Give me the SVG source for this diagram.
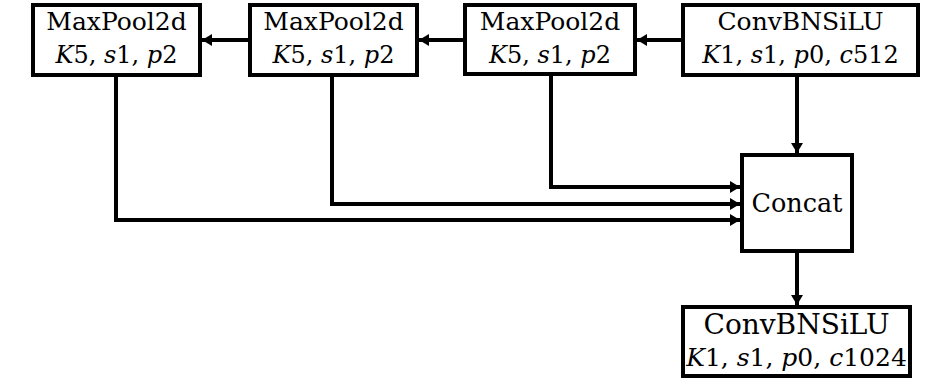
<svg xmlns="http://www.w3.org/2000/svg" width="945" height="383" viewBox="0 0 945 383">
<style>
.box{fill:#fff;stroke:#000;stroke-width:4}
.t{font-family:'DejaVu Serif','Liberation Serif',serif;font-size:25px;fill:#000;text-anchor:middle}
.s{font-size:24px}
.cc{font-size:25.5px}
.b1{font-size:28px}
.b2{font-size:25px}
.i{font-style:italic}
.c{fill:none;stroke:#000;stroke-width:4}
</style>
<defs>
<marker id="ah" viewBox="0 0 10 12" refX="10" refY="6" markerWidth="10" markerHeight="12" markerUnits="userSpaceOnUse" orient="auto">
<path d="M0,0 L10,6 L0,12 z" fill="#000"/>
</marker>
</defs>
<rect width="945" height="383" fill="#fff"/>
<g id="connectors">
<path class="c" d="M683,40 H637" marker-end="url(#ah)"/>
<path class="c" d="M465,40 H419" marker-end="url(#ah)"/>
<path class="c" d="M250,40 H202" marker-end="url(#ah)"/>
<path class="c" d="M797,75 V153" marker-end="url(#ah)"/>
<path class="c" d="M551,74 V187 H740" marker-end="url(#ah)"/>
<path class="c" d="M332,75 V204 H740" marker-end="url(#ah)"/>
<path class="c" d="M116,75 V220 H740" marker-end="url(#ah)"/>
<path class="c" d="M797,251 V305" marker-end="url(#ah)"/>
</g>
<g id="mp1">
<rect class="box" x="33" y="5" width="167" height="70"/>
<text class="t" x="116.5" y="30">MaxPool2d</text>
<text class="t s" x="116.5" y="63"><tspan class="i">K</tspan>5, <tspan class="i">s</tspan>1, <tspan class="i">p</tspan>2</text>
</g>
<g id="mp2">
<rect class="box" x="250" y="5" width="167" height="70"/>
<text class="t" x="333.5" y="30">MaxPool2d</text>
<text class="t s" x="333.5" y="63"><tspan class="i">K</tspan>5, <tspan class="i">s</tspan>1, <tspan class="i">p</tspan>2</text>
</g>
<g id="mp3">
<rect class="box" x="465" y="5" width="170" height="69"/>
<text class="t" x="550" y="30">MaxPool2d</text>
<text class="t s" x="550" y="63"><tspan class="i">K</tspan>5, <tspan class="i">s</tspan>1, <tspan class="i">p</tspan>2</text>
</g>
<g id="conv1">
<rect class="box" x="683" y="5" width="235" height="70"/>
<text class="t" x="800.5" y="30">ConvBNSiLU</text>
<text class="t s" x="800.5" y="63"><tspan class="i">K</tspan>1, <tspan class="i">s</tspan>1, <tspan class="i">p</tspan>0, <tspan class="i">c</tspan>512</text>
</g>
<g id="concat">
<rect class="box" x="742" y="155" width="110" height="96"/>
<text class="t cc" x="797" y="212">Concat</text>
</g>
<g id="conv2">
<rect class="box" x="683" y="307" width="227" height="69"/>
<text class="t b1" x="796.5" y="334">ConvBNSiLU</text>
<text class="t b2" x="796.5" y="366"><tspan class="i">K</tspan>1, <tspan class="i">s</tspan>1, <tspan class="i">p</tspan>0, <tspan class="i">c</tspan>1024</text>
</g>
</svg>
